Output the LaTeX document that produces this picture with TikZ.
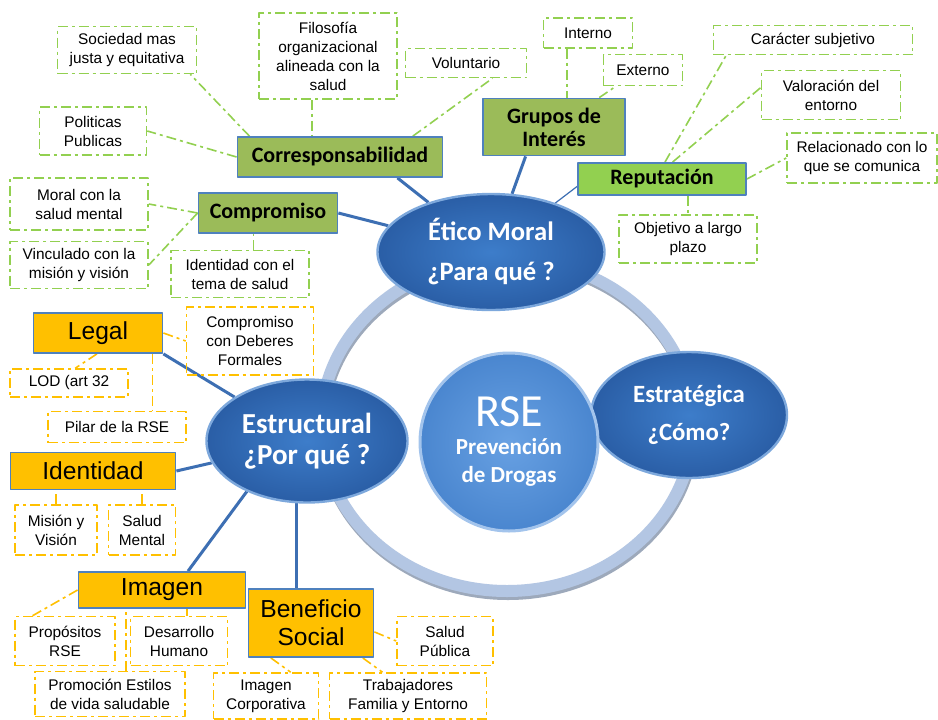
\documentclass[tikz,border=0pt]{standalone}
\usepackage{fontspec}
\setmainfont{Liberation Sans}
\newfontfamily\calibri{Carlito}
\usetikzlibrary{shapes.geometric,backgrounds}

\definecolor{oliveGreen}{HTML}{9BBB59}
\definecolor{limeGreen}{HTML}{92D050}
\definecolor{amber}{HTML}{FFC000}
\definecolor{frameBlue}{HTML}{4F81BD}
\definecolor{lineBlue}{HTML}{3D6FB3}
\definecolor{ovalBlue}{HTML}{2A5EA6}
\definecolor{ovalLight}{HTML}{3D7DCA}
\definecolor{ovalEdge}{HTML}{7DA8DC}
\definecolor{hubBlue}{HTML}{4A86CF}
\definecolor{hubLight}{HTML}{68A1E3}
\definecolor{hubEdge}{HTML}{A3C4EC}
\definecolor{ringBlue}{HTML}{B3C6E3}
\definecolor{ringShade}{HTML}{9DA9BB}

\begin{document}
\begin{tikzpicture}
  [
    x=.5pt, y=-.5pt,
    line join=round,
    box/.style 2 args={minimum width=#1, minimum height=#2},
    topic/.style={draw=frameBlue, line width=.9pt, inner sep=1pt, align=center},
    green topic/.style={topic, fill=oliveGreen, font=\calibri\bfseries\fontsize{11}{11.5}\selectfont},
    amber topic/.style={topic, fill=amber, font=\fontsize{12.3}{14}\selectfont},
    detail/.style={line width=.8pt, dash pattern=on 5pt off 2pt on 1.5pt off 2pt,
      inner sep=1pt, align=center, font=\fontsize{7.7}{9.5}\selectfont},
    green detail/.style={detail, draw=limeGreen},
    amber detail/.style={detail, draw=amber},
    tie/.style={line width=.8pt, dash pattern=on 5pt off 2pt on 1.5pt off 2pt},
    oval/.style={ellipse, inner sep=0pt, draw=ovalEdge, line width=1.2pt,
      inner color=ovalLight, outer color=ovalBlue, text=white, align=center},
    hub/.style={circle, inner sep=0pt, draw=hubEdge, line width=1.5pt,
      inner color=hubLight, outer color=hubBlue, text=white, align=center},
    spoke/.style={lineBlue, line width=1.5pt},
  ]
\useasboundingbox (0,0) rectangle (938,719);

% los tres ejes y el centro
\node[oval, box={113.5pt}{58pt}, font=\calibri\bfseries\fontsize{13.3}{20}\selectfont]
  (etico) at (491,252) {Ético Moral\\¿Para qué ?};
\node[oval, box={100.5pt}{61.5pt}, font=\calibri\bfseries\fontsize{14.5}{15.5}\selectfont]
  (estr) at (307,441) {Estructural\\¿Por qué ?};
\node[oval, box={98pt}{63pt}, font=\calibri\bfseries\fontsize{12.4}{19}\selectfont]
  (estrat) at (689,415) {Estratégica\\¿Cómo?};
\node[hub, minimum size=89pt, font=\calibri\bfseries\fontsize{11.5}{14}\selectfont]
  (rse) at (509,442) {{\mdseries\fontsize{23}{22}\selectfont RSE}\\Prevención\\de Drogas};

% eje etico moral
\node[green topic, box={102.5pt}{20pt}] (corr) at (340,157) {Corresponsabilidad};
\node[green topic, box={69.5pt}{20pt}] (comp) at (268,213) {Compromiso};
\node[green topic, box={71pt}{28.5pt}] (grupos) at (554,127) {Grupos de\\Interés};
\node[green topic, fill=limeGreen, box={84pt}{16pt}] (rep) at (662,179) {Reputación};

\node[green detail, box={69.5pt}{23.5pt}] (soc) at (127,50) {Sociedad mas\\justa y equitativa};
\node[green detail, box={53.5pt}{24pt}] (pol) at (93,131) {Politicas\\Publicas};
\node[green detail, box={69pt}{43pt}] (filo) at (328,56) {Filosofía\\organizacional\\alineada con la\\salud};
\node[green detail, box={60.5pt}{14.5pt}] (vol) at (466,63) {Voluntario};
\node[green detail, box={69pt}{26pt}] (moral) at (79,204) {Moral con la\\salud mental};
\node[green detail, box={69pt}{23.5pt}] (vinc) at (79,265) {Vinculado con la\\misión y visión};
\node[green detail, box={69pt}{23.5pt}] (idcon) at (240,274) {Identidad con el\\tema de salud};
\node[green detail, box={44.5pt}{15pt}] (interno) at (588,33) {Interno};
\node[green detail, box={39.5pt}{15.5pt}] (externo) at (643,70) {Externo};
\node[green detail, box={99.5pt}{14.5pt}] (car) at (813,40) {Carácter subjetivo};
\node[green detail, box={69.5pt}{24.5pt}] (val) at (831,95) {Valoración del\\entorno};
\node[green detail, box={75pt}{25pt}] (rel) at (862,158) {Relacionado con lo\\que se comunica};
\node[green detail, box={69pt}{24pt}] (obj) at (688,239) {Objetivo a largo\\plazo};

% eje estructural
\node[amber topic, box={64.5pt}{20pt}] (legal) at (98,333) {Legal};
\node[amber topic, box={82.5pt}{18.5pt}] (ident) at (93,471) {Identidad};
\node[amber topic, box={83.5pt}{18pt}] (imagen) at (162,590) {Imagen};
\node[amber topic, box={62.5pt}{34pt}] (benef) at (311,623) {Beneficio\\Social};

\node[amber detail, box={63.5pt}{34pt}] (deb) at (250,341) {Compromiso\\con Deberes\\Formales};
\node[amber detail, box={59pt}{14pt}] (lod) at (69,383) {LOD (art 32};
\node[amber detail, box={69pt}{15.5pt}] (pilar) at (117,427) {Pilar de la RSE};
\node[amber detail, box={41pt}{25pt}] (mision) at (56,530) {Misión y\\Visión};
\node[amber detail, box={33.5pt}{25pt}] (salud) at (142,530) {Salud\\Mental};
\node[amber detail, box={50pt}{24.5pt}] (prop) at (65,641) {Propósitos\\RSE};
\node[amber detail, box={48.5pt}{24.5pt}] (desa) at (179,641) {Desarrollo\\Humano};
\node[amber detail, box={75pt}{22.5pt}] (prom) at (110,694) {Promoción Estilos\\de vida saludable};
\node[amber detail, box={52.5pt}{23pt}] (imcorp) at (266,696) {Imagen\\Corporativa};
\node[amber detail, box={78.5pt}{23pt}] (trab) at (408,696) {Trabajadores\\Familia y Entorno};
\node[amber detail, box={48pt}{24.5pt}] (salpub) at (445,641) {Salud\\Pública};

\begin{scope}[on background layer]
\fill[white] (0,0) rectangle (938,719);
\draw[ringShade, line width=6pt] (508,428) ellipse [x radius=93pt, y radius=83pt];
\draw[ringBlue, line width=6pt] (507,425) ellipse [x radius=93pt, y radius=83pt];

\draw[spoke] (corr.-20) -- (etico);
\draw[spoke] (comp.east) -- (etico);
\draw[spoke] (grupos.-134) -- (etico);
\draw[spoke, line width=.6pt] (rep.185) -- (etico);
\draw[spoke] (legal.south east) -- (estr);
\draw[spoke] (ident.east) -- (estr);
\draw[spoke] (estr.-140) -- (imagen.36);
\draw[spoke] (estr.-100) -- (estr.-100 |- benef.north);

\begin{scope}[tie, limeGreen]
\draw (corr.167.5) -- (soc.-21);
\draw (corr.west) -- (pol.east);
\draw (filo.-110) -- (filo.-110 |- corr.north);
\draw (corr.16) -- (vol.-30);
\draw (comp.west) -- (moral.east);
\draw (comp.west) -- (vinc.east);
\draw (idcon.61) -- (idcon.61 |- comp.south);
\draw (interno.-143) -- (interno.-143 |- grupos.north);
\draw (grupos.33) -- (externo.-149);
\draw (rep.80) -- (car.-170.6);
\draw (rep.58) -- (val.174);
\draw (rep.east) -- (rel.west);
\draw (rep.south -| obj.north) -- (obj.north);
\end{scope}

\begin{scope}[tie, amber]
\draw (legal.east) -- (deb.west);
\draw (legal.-93) -- (lod.67);
\draw (legal.-21.4) -- (legal.-21.4 |- pilar.north);
\draw (mision.north) -- (mision.north |- ident.south);
\draw (salud.north) -- (salud.north |- ident.south);
\draw (imagen.west) -- (prop.142.6);
\draw (desa.72) -- (desa.72 |- imagen.south);
\draw (prom.56) -- (prom.56 |- imagen.south);
\draw (benef.-8) -- (salpub.west);
\draw (benef.-139) -- (imcorp.44);
\draw (benef.-34) -- (trab.137);
\end{scope}
\end{scope}

\end{tikzpicture}
\end{document}
